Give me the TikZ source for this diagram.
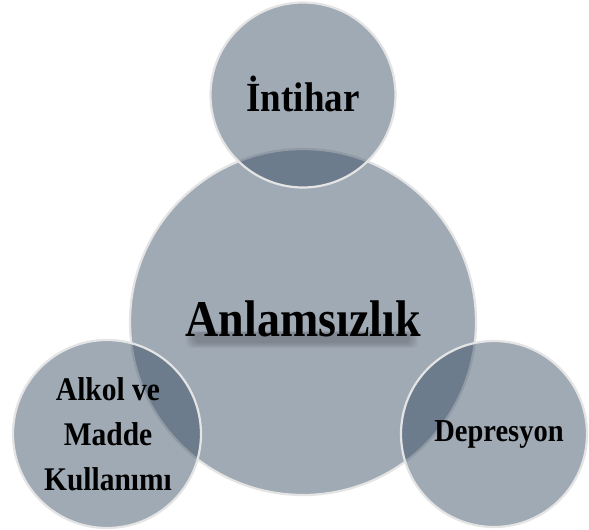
\documentclass[tikz,border=0pt]{standalone}
\usepackage{fontspec}
\setmainfont{Liberation Serif}
\definecolor{bubblefill}{RGB}{49,70,94}
\definecolor{bordergray}{RGB}{228,228,228}
\newcommand{\tallx}[1]{\scalebox{1}[1.12]{#1}}
\begin{document}
\begin{tikzpicture}[x=1pt,y=-1pt,
  bubble/.style={circle, draw=bordergray, line width=2.2pt, fill=bubblefill,
    fill opacity=0.46, draw opacity=1, inner sep=0pt},
  label/.style={font=\bfseries, text=black, align=center, inner sep=0pt}
]
\useasboundingbox (0,0) rectangle (589,530);
\fill[white] (0,0) rectangle (589,530);
% central circle
\node[bubble, minimum size=346pt] (c) at (303,322) {};
% soft shadow under central text
\foreach \d in {0,2,4,6,8}{
  \fill[black, opacity=0.045, rounded corners=6pt] (186+\d,331+\d*0.2) rectangle (418-\d,348-\d*0.6);
}
\node[label, font=\bfseries\fontsize{46}{50}\selectfont] (ct) at (303,319) {\tallx{Anlamsızlık}};
% satellites
\node[bubble, minimum size=185pt] (t) at (303,95) {};
\node[bubble, minimum size=188pt] (l) at (107,434) {};
\node[bubble, minimum size=186pt] (r) at (494,434) {};
\node[label, font=\bfseries\fontsize{37}{40}\selectfont] (tt) at (303,94) {\tallx{İntihar}};
\node[label, font=\bfseries\fontsize{29.5}{45}\selectfont] (lt) at (108,434) {\tallx{Alkol ve}\\\tallx{Madde}\\\tallx{Kullanımı}};
\node[label, font=\bfseries\fontsize{28.5}{32}\selectfont] (rt) at (499,434) {\tallx{Depresyon}};
\end{tikzpicture}
\end{document}
